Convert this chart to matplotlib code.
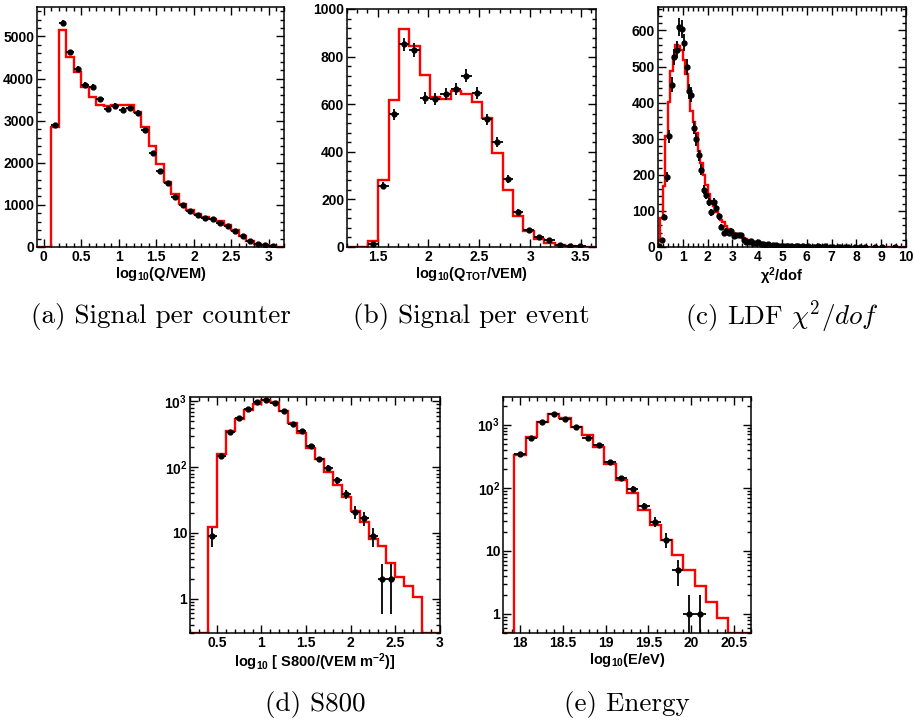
import numpy as np
import matplotlib
matplotlib.use("Agg")
import matplotlib.pyplot as plt
from matplotlib.ticker import MultipleLocator, LogLocator, FuncFormatter, NullFormatter

plt.rcParams['font.family'] = ['Liberation Sans', 'DejaVu Sans']
plt.rcParams['font.weight'] = 'bold'
plt.rcParams['mathtext.fontset'] = 'custom'
plt.rcParams['mathtext.rm'] = 'Liberation Sans:bold'
plt.rcParams['mathtext.it'] = 'Liberation Sans:bold'
plt.rcParams['mathtext.bf'] = 'Liberation Sans:bold'

# (a) signal per counter: bins of 0.1 starting at -0.1
a_lo, a_w = -0.1, 0.1
a_model = [0, 0, 2860, 5160, 4520, 4150, 3810, 3560, 3380, 3350, 3370, 3370, 3370,
           3200, 2850, 2410, 1960, 1540, 1250, 1020, 890, 780, 720, 670, 610, 530,
           400, 260, 140, 80, 40, 20, 0]
a_data = [0, 0, 2890, 5330, 4620, 4230, 3850, 3810, 3510, 3270, 3360, 3260, 3300,
          3190, 2770, 2240, 1800, 1520, 1190, 990, 850, 770, 680, 660, 580, 510,
          380, 270, 140, 80, 40, 20, 0]

# (b) signal per event
b_lo, b_w = 1.2, 0.102
b_model = [0, 0, 25, 280, 617, 914, 844, 724, 631, 623, 656, 642, 610, 544, 397,
           238, 129, 67, 35, 17, 7, 4, 2, 0]
b_data = [0, 0, 12, 258, 558, 851, 827, 627, 623, 642, 665, 720, 648, 537, 443,
          285, 147, 70, 41, 28, 10, 6, 3, 0]

# (c) LDF chi2/dof, 100 bins 0..10
c_lo, c_w = 0.0, 0.1
c_model = [16, 80, 170, 307, 402, 487, 530, 559, 556, 547,
           517, 478, 438, 378, 346, 316, 265, 233, 200, 173,
           148, 127, 113, 97, 85, 76, 68, 57, 50, 45,
           39, 34, 37, 31, 26, 22, 19, 17, 15, 13,
           12, 11, 10, 9, 8, 7, 7, 6, 6, 5,
           5, 4, 4, 4, 3, 3, 3, 3, 2, 2,
           2, 2, 2, 2, 2, 1, 1, 1, 1, 1,
           1, 1, 1, 1, 1, 1, 1, 1, 1, 1,
           1, 1, 1, 1, 0, 0, 0, 0, 0, 0,
           0, 0, 0, 0, 0, 0, 0, 0, 0, 0]
c_data = [3, 20, 83, 193, 307, 450, 527, 547, 609, 605,
          566, 498, 432, 422, 330, 298, 254, 214, 159, 144,
          124, 96, 125, 108, 85, 55, 39, 45, 38, 45,
          30, 33, 34, 32, 20, 15, 14, 18, 12, 10,
          14, 8, 9, 6, 7, 4, 6, 5, 3, 4,
          3, 2, 3, 2, 1, 2, 3, 1, 2, 1,
          2, 0, 1, 1, 2, 1, 0, 2, 0, 1,
          1, 0, 1, 1, 0, 1, 1, 0, 0, 1,
          0, 1, 0, 1, 0, 0, 0, 1, 0, 0,
          1, 0, 0, 0, 0, 1, 0, 0, 0, 0]

# (d) S800
d_lo, d_w = 0.2, 0.1
d_model = [0, 0, 12.3, 161, 357, 545, 755, 910, 1047, 965, 721, 473, 333, 197, 132,
           85, 54, 35, 21.6, 14.7, 8.0, 6.3, 3.5, 2.14, 1.54, 1.06, 0, 0]
d_data = [0, 0, 9, 150, 345, 560, 775, 990, 1060, 955, 720, 450, 353, 213, 132,
          98, 63, 39, 21, 17, 9, 2, 2, 0, 0, 0, 0, 0]

# (e) energy
e_lo, e_w = 17.8, 2.9 / 22
e_model = [0, 327, 631, 1104, 1459, 1262, 908, 678, 444, 242, 131, 83, 45, 26,
           14.7, 8.5, 5.0, 2.74, 1.55, 0.85, 0, 0]
e_data = [0, 343, 614, 1120, 1475, 1220, 908, 614, 477, 253, 143, 97, 51, 29,
          15, 5, 1, 1, 0, 0, 0, 0]

captions = ["(a) Signal per counter", "(b) Signal per event", r"(c) LDF $\chi^2/dof$",
            "(d) S800", "(e) Energy"]
xlabels = ["log$_{10}$(Q/VEM)", "log$_{10}$(Q$_{TOT}$/VEM)", "χ$^{2}$/dof",
           "log$_{10}$ [ S800/(VEM m$^{-2}$)]", "log$_{10}$(E/eV)"]


def logfmt(v, pos):
    if v < 1.5:
        return "1"
    if v < 15:
        return "10"
    return "$10^{%d}$" % round(np.log10(v))


plain = FuncFormatter(lambda v, p: "%g" % round(v, 6))


def draw(ax, lo, w, model, data, log=False, ymin=0.0):
    model = np.asarray(model, float)
    data = np.asarray(data, float)
    edges = lo + w * np.arange(len(model) + 1)
    vals = np.clip(model, ymin, None) if log else model
    ax.stairs(vals, edges, color='#ff0000', lw=1.7, baseline=ymin, zorder=2)
    centers = edges[:-1] + w / 2
    m = data > 0
    ax.errorbar(centers[m], data[m], xerr=w / 2, yerr=np.sqrt(data[m]), fmt='o',
                ms=3.5, color='black', elinewidth=1.3, capsize=0, zorder=3)
    ax.xaxis.set_major_formatter(plain)
    if log:
        ax.set_yscale('log')
        ax.yaxis.set_major_locator(LogLocator(base=10))
        ax.yaxis.set_minor_locator(LogLocator(base=10, subs=np.arange(2, 10)))
        ax.yaxis.set_major_formatter(FuncFormatter(logfmt))
        ax.yaxis.set_minor_formatter(NullFormatter())
    else:
        ax.yaxis.set_major_formatter(plain)
    ax.tick_params(which='both', direction='in', top=True, right=True, width=1.0,
                   labelsize=10, pad=2)
    ax.tick_params(which='major', length=6)
    ax.tick_params(which='minor', length=3)
    for s in ax.spines.values():
        s.set_linewidth(1.1)


fig = plt.figure(figsize=(9.15, 7.23), dpi=100)
W, H = 915, 723
boxes = [(37, 7, 284, 247), (347, 9, 596, 247), (658, 7, 906, 247),
         (190, 397, 440, 633), (503, 397, 751, 633)]
axes = [fig.add_axes([l / W, (H - b) / H, (r - l) / W, (b - t) / H]) for l, t, r, b in boxes]

ax = axes[0]
draw(ax, a_lo, a_w, a_model, a_data)
ax.set_xlim(-0.09, 3.2)
ax.set_ylim(0, 5700)
ax.xaxis.set_major_locator(MultipleLocator(0.5))
ax.xaxis.set_minor_locator(MultipleLocator(0.1))
ax.yaxis.set_major_locator(MultipleLocator(1000))
ax.yaxis.set_minor_locator(MultipleLocator(200))

ax = axes[1]
draw(ax, b_lo, b_w, b_model, b_data)
ax.set_xlim(1.2, b_lo + b_w * len(b_model))
ax.set_ylim(0, 1000)
ax.xaxis.set_major_locator(MultipleLocator(0.5))
ax.xaxis.set_minor_locator(MultipleLocator(0.1))
ax.yaxis.set_major_locator(MultipleLocator(200))
ax.yaxis.set_minor_locator(MultipleLocator(40))

ax = axes[2]
draw(ax, c_lo, c_w, c_model, c_data)
ax.set_xlim(0, 10)
ax.set_ylim(0, 665)
ax.xaxis.set_major_locator(MultipleLocator(1))
ax.xaxis.set_minor_locator(MultipleLocator(0.2))
ax.yaxis.set_major_locator(MultipleLocator(100))
ax.yaxis.set_minor_locator(MultipleLocator(20))

ax = axes[3]
draw(ax, d_lo, d_w, d_model, d_data, log=True, ymin=0.3)
ax.set_xlim(0.2, 3.0)
ax.set_ylim(0.3, 1170)
ax.xaxis.set_major_locator(MultipleLocator(0.5))
ax.xaxis.set_minor_locator(MultipleLocator(0.1))

ax = axes[4]
draw(ax, e_lo, e_w, e_model, e_data, log=True, ymin=0.5)
ax.set_xlim(17.8, 20.7)
ax.set_ylim(0.5, 2740)
ax.xaxis.set_major_locator(MultipleLocator(0.5))
ax.xaxis.set_minor_locator(MultipleLocator(0.1))

for ax, lab in zip(axes, xlabels):
    ax.set_xlabel(lab, fontsize=10.5, fontweight='bold', labelpad=1)

cap_y = [317, 317, 317, 705, 705]
for (l, t, r, b), cap, y in zip(boxes, captions, cap_y):
    fig.text((l + r) / 2 / W, (H - y) / H, cap, ha='center', va='center',
             fontsize=19.5, family='cmr10', fontweight='normal', math_fontfamily='cm')

fig.savefig("out.png", dpi=100)
